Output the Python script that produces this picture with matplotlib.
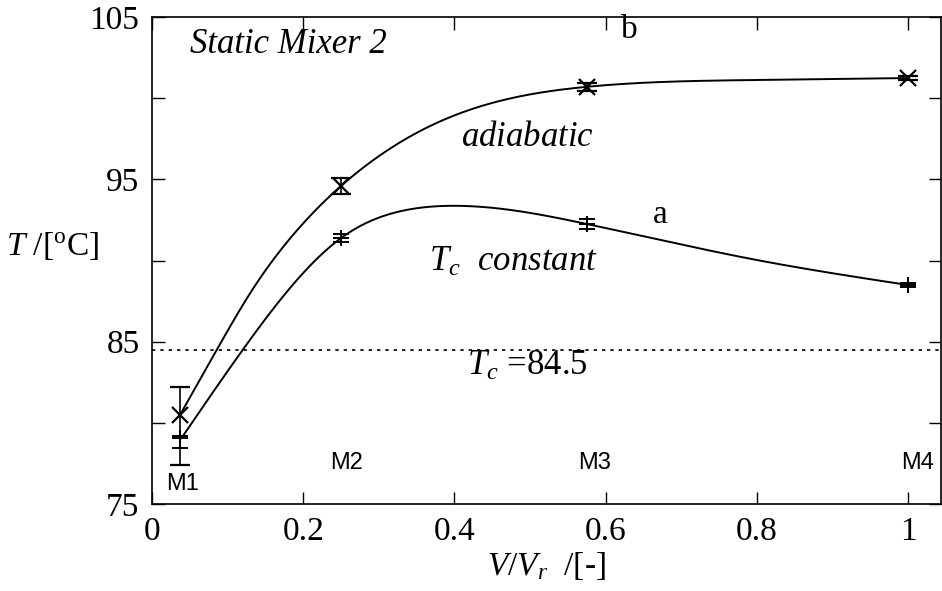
import numpy as np
import matplotlib
matplotlib.use("Agg")
import matplotlib.pyplot as plt

plt.rcParams['font.family'] = ['Liberation Serif', 'DejaVu Serif']
plt.rcParams['mathtext.fontset'] = 'custom'
plt.rcParams['mathtext.rm'] = 'Liberation Serif'
plt.rcParams['mathtext.it'] = 'Liberation Serif:italic'

# Measured points (mixer positions)
positions = [0.037, 0.25, 0.575, 1.0]
pos_labels = ["M1", "M2", "M3", "M4"]
temp_b = [80.48, 94.59, 100.69, 101.24]      # adiabatic
err_b_low = [3.1, 0.5, 0.25, 0.15]
err_b_high = [1.7, 0.5, 0.25, 0.15]
temp_a = [79.06, 91.38, 92.25, 88.49]        # Tc constant
err_a_low = [0.6, 0.25, 0.3, 0.1]
err_a_high = [0.1, 0.25, 0.3, 0.1]
tc_value = 84.5

# Model curves
model_x_b = [0.037, 0.088, 0.130, 0.187, 0.25, 0.385, 0.573, 0.80, 1.0]
model_b = [80.48, 84.69, 88.0, 91.6, 94.59, 98.65, 100.69, 101.12, 101.24]
model_x_a = [0.039, 0.123, 0.25, 0.33, 0.398, 0.575, 0.80, 1.0]
model_a = [79.06, 84.69, 91.38, 93.05, 93.37, 92.25, 90.03, 88.49]


def natural_spline(x, y, xs):
    x = np.asarray(x, float); y = np.asarray(y, float)
    n = len(x)
    h = np.diff(x)
    A = np.zeros((n, n)); r = np.zeros(n)
    A[0, 0] = 1; A[-1, -1] = 1
    for i in range(1, n - 1):
        A[i, i - 1] = h[i - 1]
        A[i, i] = 2 * (h[i - 1] + h[i])
        A[i, i + 1] = h[i]
        r[i] = 6 * ((y[i + 1] - y[i]) / h[i] - (y[i] - y[i - 1]) / h[i - 1])
    M = np.linalg.solve(A, r)
    out = np.empty_like(xs)
    for k, xv in enumerate(xs):
        i = min(max(np.searchsorted(x, xv) - 1, 0), n - 2)
        t1 = x[i + 1] - xv; t0 = xv - x[i]
        out[k] = (M[i] * t1**3 / (6 * h[i]) + M[i + 1] * t0**3 / (6 * h[i])
                  + (y[i] / h[i] - M[i] * h[i] / 6) * t1
                  + (y[i + 1] / h[i] - M[i + 1] * h[i] / 6) * t0)
    return out


fig = plt.figure(figsize=(9.42, 5.91), dpi=100)
ax = fig.add_axes([152 / 942, (591 - 504) / 591, 789 / 942, 487 / 591])

xb = np.linspace(model_x_b[0], model_x_b[-1], 500)
xa = np.linspace(model_x_a[0], model_x_a[-1], 500)
ax.plot(xb, natural_spline(model_x_b, model_b, xb), color='black', lw=1.4)
ax.plot(xa, natural_spline(model_x_a, model_a, xa), color='black', lw=1.4)

ax.errorbar(positions, temp_b, yerr=[err_b_low, err_b_high], fmt='x', color='black',
            ms=11, mew=1.6, elinewidth=1.2, capsize=7, capthick=1.2)
ax.errorbar(positions, temp_a, yerr=[err_a_low, err_a_high], fmt='+', color='black',
            ms=12, mew=1.4, elinewidth=1.2, capsize=6, capthick=1.2)

ax.axhline(tc_value, color='black', lw=1.2, ls=(0, (2, 3)))

ax.set_xlim(0, 789 / 756)
ax.set_ylim(75, 105)
ax.set_xticks([0, 0.2, 0.4, 0.6, 0.8, 1.0])
ax.set_xticklabels(["0", "0.2", "0.4", "0.6", "0.8", "1"])
ax.set_yticks([75, 80, 85, 90, 95, 100, 105])
ax.set_yticklabels(["75", "", "85", "", "95", "", "105"])
ax.tick_params(direction='in', length=9, width=1, top=True, right=True,
               labelsize=24, pad=9)
for s in ax.spines.values():
    s.set_linewidth(1.2)

ax.set_xlabel(r"$V/V_r$  /[-]", fontsize=24, labelpad=2)
fig.text(52 / 942, 1 - 246 / 591, r"$T$ /[$^{\rm o}$C]", fontsize=24,
         ha='center', va='center')

ax.text(0.05, 103.3, "Static Mixer 2", fontsize=25, style='italic', va='center')
ax.text(0.632, 104.2, "b", fontsize=24, ha='center', va='center')
ax.text(0.672, 92.8, "a", fontsize=24, ha='center', va='center')
ax.text(0.496, 97.6, r"$adiabatic$", fontsize=25, ha='center', va='center')
ax.text(0.478, 89.9, r"$T_c$  $constant$", fontsize=25, ha='center', va='center')
ax.text(0.496, 83.5, r"$T_c$ =84.5", fontsize=25, ha='center', va='center')

label_x = [0.040, 0.258, 0.585, 1.012]
label_y = [76.25, 77.55, 77.55, 77.55]
for xp, lab, yy in zip(label_x, pos_labels, label_y):
    ax.text(xp, yy, lab, fontsize=17, family='Liberation Sans',
            ha='center', va='center')

fig.savefig("out.png", dpi=100)
